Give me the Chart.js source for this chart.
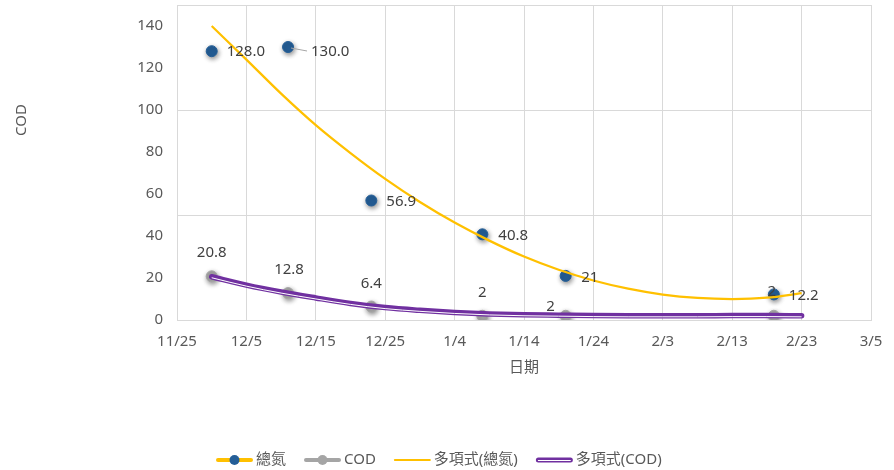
<!DOCTYPE html>
<html>
<head>
<meta charset="utf-8">
<script src="https://cdn.jsdelivr.net/npm/chart.js@4.4.0/dist/chart.umd.min.js"></script>
<style>
  html, body { margin: 0; padding: 0; background: #ffffff; }
  #wrap { width: 894px; height: 470px; }
</style>
</head>
<body>
<div id="wrap"><canvas id="c" width="894" height="470"></canvas></div>
<script>
const FONT = '"Noto Sans", "Noto Sans CJK TC", sans-serif';
const FONT_SIZE = 15;
const TEXT_COLOR = '#595959';
const LABEL_COLOR = '#404040';

// Sampling dates (month/day) and measured values
const sampleDates = ['11/30', '12/11', '12/23', '1/8', '1/20', '2/19'];
const totalNitrogen = [128.0, 130.0, 56.9, 40.8, 21, 12.2];
const totalNitrogenDecimals = [1, 1, 1, 1, 0, 1];
const codValues = [20.8, 12.8, 6.4, 2, 2, 2];
const codDecimals = [1, 1, 1, 0, 0, 0];

// Polynomial trend curves, sampled every five days
const trendDates = ['11/30', '12/5', '12/10', '12/15', '12/20', '12/25', '12/30', '1/4', '1/9',
                    '1/14', '1/19', '1/24', '1/29', '2/3', '2/8', '2/13', '2/18', '2/23'];
const nitrogenTrend = [140.0, 124.0, 107.8, 92.8, 79.5, 67.2, 56.2, 46.4, 37.8,
                       30.2, 23.9, 18.8, 14.9, 12.1, 10.5, 10.0, 10.6, 12.8];
const codTrend = [20.6, 16.6, 13.3, 10.5, 7.9, 5.9, 4.6, 3.6, 2.9,
                  2.5, 2.3, 2.1, 2.0, 2.0, 2.0, 2.1, 2.1, 2.0];

// Axis ticks
const xTickLabels = ['11/25', '12/5', '12/15', '12/25', '1/4', '1/14', '1/24', '2/3', '2/13', '2/23', '3/5'];
const yLabelValues = [0, 20, 40, 60, 80, 100, 120, 140];
const yGridValues = [0, 50, 100, 150];

// Days elapsed since 11/25 (Nov/Dec in the first year, Jan-Mar in the following one)
function dayOffset(md) {
  const [m, d] = md.split('/').map(Number);
  const year = m >= 11 ? 2022 : 2023;
  return (Date.UTC(year, m - 1, d) - Date.UTC(2022, 10, 25)) / 86400000;
}
const toPoints = (dates, vals) => dates.map((d, i) => ({ x: dayOffset(d), y: vals[i] }));

// Label placement relative to each marker
const nitrogenLabelOffsets = [[15, 1], [23, 5], [15, 1], [16, 1], [15.5, 2], [15, 1]];
const codLabelOffsets = [[0, -24], [1, -23], [0, -23], [0, -23], [-15, -9], [-2, -24]];

const datasets = [
  { // white inner stripe of the double COD trend line
    label: 'codTrendInner', data: toPoints(trendDates, codTrend), showLine: true,
    borderColor: '#ffffff', borderWidth: 1, pointRadius: 0, cubicInterpolationMode: 'monotone',
    order: 0, innerStripe: true
  },
  {
    label: '多項式(總氮)', data: toPoints(trendDates, nitrogenTrend), showLine: true,
    borderColor: '#FFC000', borderWidth: 2.25, pointRadius: 0, cubicInterpolationMode: 'monotone',
    order: 1
  },
  {
    label: '多項式(COD)', data: toPoints(trendDates, codTrend), showLine: true,
    borderColor: '#7030A0', borderWidth: 5.5, pointRadius: 0, cubicInterpolationMode: 'monotone',
    borderCapStyle: 'round', order: 1
  },
  {
    label: '總氮', data: toPoints(sampleDates, totalNitrogen), showLine: false,
    backgroundColor: '#245E97', borderColor: '#245E97', pointRadius: 5.5, pointBorderWidth: 1,
    order: 2, markerShadow: true
  },
  {
    label: 'COD', data: toPoints(sampleDates, codValues), showLine: false,
    backgroundColor: '#A5A5A5', borderColor: '#A5A5A5', pointRadius: 5.5, pointBorderWidth: 1,
    order: 2, markerShadow: true
  }
];

// Shadows under markers, and the offset for the inner stripe of the double line
const effectsPlugin = {
  id: 'effects',
  beforeDatasetDraw(chart, args) {
    const ds = chart.data.datasets[args.index];
    const ctx = chart.ctx;
    ctx.save();
    if (ds.markerShadow) {
      ctx.shadowColor = 'rgba(0,0,0,0.45)';
      ctx.shadowBlur = 5;
      ctx.shadowOffsetX = 1;
      ctx.shadowOffsetY = 2;
    }
    if (ds.innerStripe) ctx.translate(0, 1);
  },
  afterDatasetDraw(chart) {
    chart.ctx.restore();
  }
};

// Value labels next to the markers
const valueLabelPlugin = {
  id: 'valueLabels',
  afterDatasetsDraw(chart) {
    const ctx = chart.ctx;
    ctx.save();
    ctx.font = FONT_SIZE + 'px ' + FONT;
    ctx.fillStyle = LABEL_COLOR;
    ctx.textBaseline = 'middle';

    const nMeta = chart.getDatasetMeta(3);
    nMeta.data.forEach((pt, i) => {
      const [dx, dy] = nitrogenLabelOffsets[i];
      ctx.textAlign = 'left';
      ctx.fillText(totalNitrogen[i].toFixed(totalNitrogenDecimals[i]), pt.x + dx, pt.y + dy);
      if (i === 1) { // leader line to a displaced label
        ctx.strokeStyle = '#A6A6A6';
        ctx.lineWidth = 1;
        ctx.beginPath();
        ctx.moveTo(pt.x + 3, pt.y + 1);
        ctx.lineTo(pt.x + 19, pt.y + 4);
        ctx.stroke();
      }
    });

    const cMeta = chart.getDatasetMeta(4);
    cMeta.data.forEach((pt, i) => {
      const [dx, dy] = codLabelOffsets[i];
      ctx.textAlign = 'center';
      ctx.fillText(codValues[i].toFixed(codDecimals[i]), pt.x + dx, pt.y + dy);
    });
    ctx.restore();
  }
};

// Rotated y-axis title
const yTitlePlugin = {
  id: 'yTitle',
  afterDraw(chart) {
    const ctx = chart.ctx;
    ctx.save();
    ctx.translate(22, 120);
    ctx.rotate(-Math.PI / 2);
    ctx.font = FONT_SIZE + 'px ' + FONT;
    ctx.fillStyle = TEXT_COLOR;
    ctx.textAlign = 'center';
    ctx.textBaseline = 'middle';
    ctx.fillText('COD', 0, 0);
    ctx.restore();
  }
};

// Legend row below the chart
const legendPlugin = {
  id: 'bottomLegend',
  afterDraw(chart) {
    const ctx = chart.ctx;
    const ds = chart.data.datasets;
    const items = [
      { text: ds[3].label, icon: (x, y) => { line(x, y, '#FFC000', 4); dot(x + 18.5, y, ds[3].backgroundColor); } },
      { text: ds[4].label, icon: (x, y) => { line(x, y, '#A5A5A5', 4); dot(x + 18.5, y, ds[4].backgroundColor); } },
      { text: ds[1].label, icon: (x, y) => { line(x, y, ds[1].borderColor, 2); } },
      { text: ds[2].label, icon: (x, y) => { line(x, y, ds[2].borderColor, 5); line(x + 2, y + 0.5, '#ffffff', 1, 33); } }
    ];
    function line(x, y, color, w, len) {
      ctx.save();
      ctx.strokeStyle = color; ctx.lineWidth = w; ctx.lineCap = 'round';
      ctx.beginPath(); ctx.moveTo(x + w / 2, y); ctx.lineTo(x + (len || 37) - w / 2, y); ctx.stroke();
      ctx.restore();
    }
    function dot(x, y, color) {
      ctx.save();
      ctx.fillStyle = color;
      ctx.beginPath(); ctx.arc(x, y, 5, 0, Math.PI * 2); ctx.fill();
      ctx.restore();
    }
    ctx.save();
    ctx.font = FONT_SIZE + 'px ' + FONT;
    const iconW = 37, gap = 3, spacing = 18;
    const widths = items.map(it => iconW + gap + ctx.measureText(it.text).width);
    let x = 216;
    const y = 460;
    items.forEach((it, i) => {
      it.icon(x, y);
      ctx.fillStyle = TEXT_COLOR;
      ctx.textAlign = 'left';
      ctx.textBaseline = 'middle';
      ctx.fillText(it.text, x + iconW + gap, y);
      x += widths[i] + spacing;
    });
    ctx.restore();
  }
};

new Chart(document.getElementById('c'), {
  type: 'scatter',
  data: { datasets },
  options: {
    responsive: false,
    animation: false,
    devicePixelRatio: 1,
    layout: { autoPadding: false, padding: { left: 0, right: 23, top: 5, bottom: 0 } },
    plugins: {
      legend: { display: false },
      tooltip: { enabled: false }
    },
    scales: {
      x: {
        type: 'linear', min: 0, max: 100,
        ticks: {
          stepSize: 10, autoSkip: false, maxRotation: 0, padding: 13,
          color: TEXT_COLOR, font: { family: FONT, size: FONT_SIZE },
          callback: (v) => xTickLabels[Math.round(v / 10)]
        },
        grid: { color: '#D9D9D9', drawTicks: false },
        border: { color: '#D9D9D9' },
        title: {
          display: true, text: '日期', color: TEXT_COLOR,
          font: { family: FONT, size: FONT_SIZE }, padding: { top: 0, bottom: 93 }
        },
        afterFit: (s) => { s.height = 150; s.paddingLeft = 0; s.paddingRight = 0; }
      },
      y: {
        min: 0, max: 150,
        ticks: {
          stepSize: 10, autoSkip: false, padding: 14,
          color: TEXT_COLOR, font: { family: FONT, size: FONT_SIZE },
          callback: (v) => (yLabelValues.includes(v) ? v : '')
        },
        grid: {
          drawTicks: false,
          color: (c) => (yGridValues.includes(c.tick && c.tick.value) ? '#D9D9D9' : 'rgba(0,0,0,0)')
        },
        border: { color: '#D9D9D9' },
        afterFit: (s) => { s.width = 177; s.paddingTop = 0; s.paddingBottom = 0; }
      }
    }
  },
  plugins: [effectsPlugin, valueLabelPlugin, yTitlePlugin, legendPlugin]
});
</script>
</body>
</html>
